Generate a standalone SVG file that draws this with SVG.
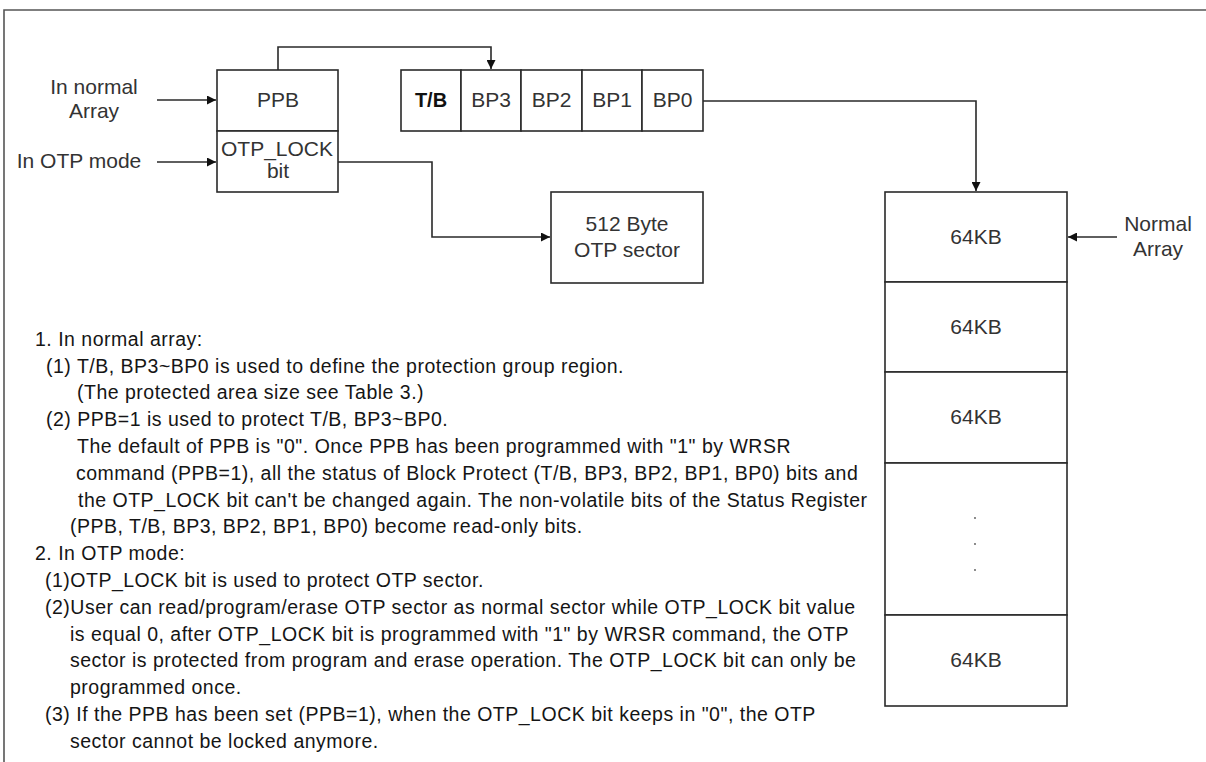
<svg xmlns="http://www.w3.org/2000/svg" width="1206" height="762" viewBox="0 0 1206 762">
<style>
.box{fill:#fff;stroke:#2a2a2a;stroke-width:1.6}
.ln{fill:none;stroke:#2a2a2a;stroke-width:1.6}
.lbl{font-family:"Liberation Sans",Arial,sans-serif;font-size:21px;fill:#333;text-anchor:middle}
.tb{font-family:"Liberation Sans",Arial,sans-serif;font-size:20px;font-weight:bold;fill:#111;text-anchor:middle}
.desc{font-family:"Liberation Sans",Arial,sans-serif;font-size:19.5px;letter-spacing:0.5px;fill:#151515}
</style>
<defs>
<marker id="ah" viewBox="0 0 10 10" refX="10" refY="5" markerWidth="9" markerHeight="9" markerUnits="userSpaceOnUse" orient="auto">
<path d="M0,0 L10,5 L0,10 z" fill="#111"/>
</marker>
</defs>
<rect width="1206" height="762" fill="#fff"/>
<path d="M4,762 V10 H1206" fill="none" stroke="#555" stroke-width="1.6"/>

<g id="connectors">
<line class="ln" x1="157" y1="100" x2="216" y2="100" marker-end="url(#ah)"/>
<line class="ln" x1="157" y1="162" x2="216" y2="162" marker-end="url(#ah)"/>
<polyline class="ln" points="278,70 278,47 491,47 491,69" marker-end="url(#ah)"/>
<polyline class="ln" points="338,162 432,162 432,237 550,237" marker-end="url(#ah)"/>
<polyline class="ln" points="703,101 976,101 976,191" marker-end="url(#ah)"/>
<line class="ln" x1="1117" y1="237" x2="1068" y2="237" marker-end="url(#ah)"/>
</g>

<g id="label-normal-array-left">
<text class="lbl" x="94" y="94">In normal</text>
<text class="lbl" x="94" y="118">Array</text>
</g>
<g id="label-otp-mode">
<text class="lbl" x="79" y="168">In OTP mode</text>
</g>

<g id="ppb">
<rect class="box" x="217" y="70" width="121" height="61"/>
<text class="lbl" x="278" y="107">PPB</text>
</g>
<g id="otp-lock">
<rect class="box" x="217" y="131" width="121" height="61"/>
<text class="lbl" x="277" y="156">OTP_LOCK</text>
<text class="lbl" x="278" y="178">bit</text>
</g>

<g id="status-bits">
<rect class="box" x="401" y="70" width="60" height="61"/>
<text class="tb" x="431" y="107">T/B</text>
<rect class="box" x="461" y="70" width="60" height="61"/>
<text class="lbl" x="491" y="107">BP3</text>
<rect class="box" x="521" y="70" width="61" height="61"/>
<text class="lbl" x="551.5" y="107">BP2</text>
<rect class="box" x="582" y="70" width="60" height="61"/>
<text class="lbl" x="612" y="107">BP1</text>
<rect class="box" x="642" y="70" width="61" height="61"/>
<text class="lbl" x="672.5" y="107">BP0</text>
</g>

<g id="otp-sector">
<rect class="box" x="551" y="192" width="152" height="91"/>
<text class="lbl" x="627" y="231">512 Byte</text>
<text class="lbl" x="627" y="257">OTP sector</text>
</g>

<g id="normal-array">
<rect class="box" x="885" y="192" width="182" height="90"/>
<text class="lbl" x="976" y="244">64KB</text>
<rect class="box" x="885" y="282" width="182" height="90"/>
<text class="lbl" x="976" y="334">64KB</text>
<rect class="box" x="885" y="372" width="182" height="91"/>
<text class="lbl" x="976" y="424">64KB</text>
<rect class="box" x="885" y="463" width="182" height="152"/>
<circle cx="975" cy="518" r="0.9" fill="#555"/>
<circle cx="975" cy="544" r="0.9" fill="#555"/>
<circle cx="975" cy="570" r="0.9" fill="#555"/>
<rect class="box" x="885" y="615" width="182" height="91"/>
<text class="lbl" x="976" y="667">64KB</text>
</g>
<g id="label-normal-array-right">
<text class="lbl" x="1158" y="231">Normal</text>
<text class="lbl" x="1158" y="256">Array</text>
</g>

<g id="notes" class="desc">
<text x="35" y="346">1. In normal array:</text>
<text x="46" y="373">(1) T/B, BP3~BP0 is used to define the protection group region.</text>
<text x="77" y="399">(The protected area size see Table 3.)</text>
<text x="46" y="426">(2) PPB=1 is used to protect T/B, BP3~BP0.</text>
<text x="77" y="453">The default of PPB is "0". Once PPB has been programmed with "1" by WRSR</text>
<text x="76" y="480">command (PPB=1), all the status of Block Protect (T/B, BP3, BP2, BP1, BP0) bits and</text>
<text x="78" y="507">the OTP_LOCK bit can't be changed again. The non-volatile bits of the Status Register</text>
<text x="70" y="533">(PPB, T/B, BP3, BP2, BP1, BP0) become read-only bits.</text>
<text x="35" y="560">2. In OTP mode:</text>
<text x="45" y="587">(1)OTP_LOCK bit is used to protect OTP sector.</text>
<text x="45" y="614">(2)User can read/program/erase OTP sector as normal sector while OTP_LOCK bit value</text>
<text x="70" y="641">is equal 0, after OTP_LOCK bit is programmed with "1" by WRSR command, the OTP</text>
<text x="70" y="667">sector is protected from program and erase operation. The OTP_LOCK bit can only be</text>
<text x="70" y="694">programmed once.</text>
<text x="45" y="721">(3) If the PPB has been set (PPB=1), when the OTP_LOCK bit keeps in "0", the OTP</text>
<text x="70" y="748">sector cannot be locked anymore.</text>
</g>
</svg>
